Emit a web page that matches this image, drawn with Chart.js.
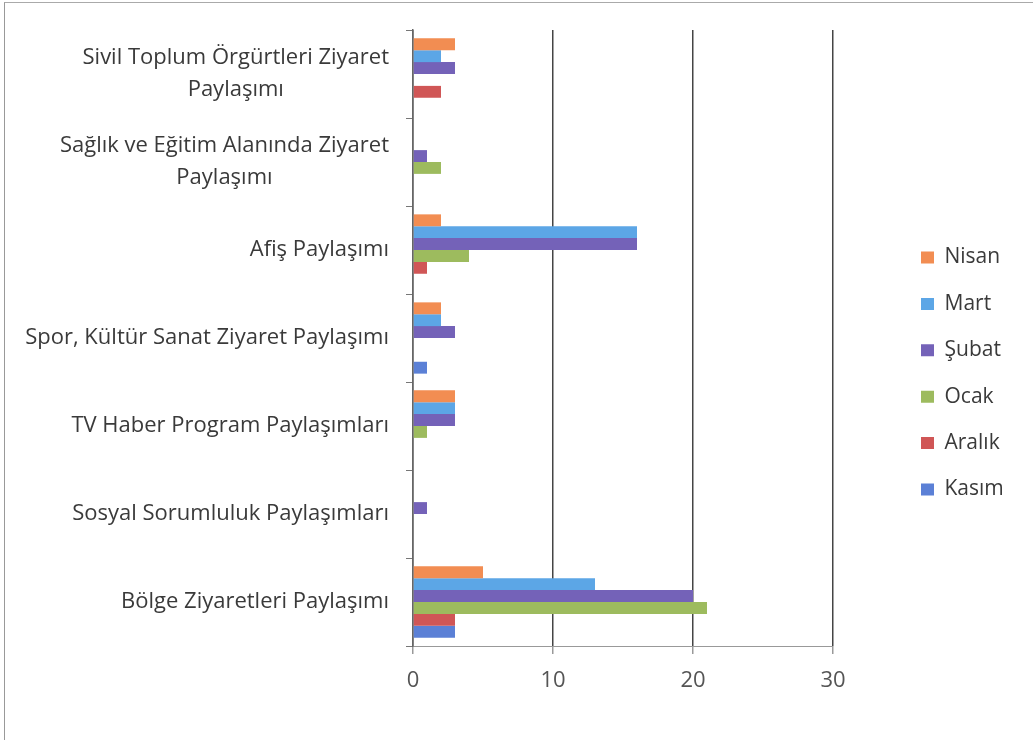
<!DOCTYPE html>
<html>
<head>
<meta charset="utf-8">
<script src="https://cdn.jsdelivr.net/npm/chart.js"></script>
<style>
  body { margin: 0; background: #fff; }
  #frame { position: absolute; left: 4px; top: 2px; width: 1100px; height: 800px;
           border-left: 1px solid #999; border-top: 1px solid #aaa; }
  #wrap { position: absolute; left: 0; top: 0; }
</style>
</head>
<body>
<div id="frame"></div>
<div id="wrap"><canvas id="chart" width="1033" height="740"></canvas></div>
<script>
// categorías (de arriba a abajo) y valores por mes
const categories = [
  ['Sivil Toplum Örgürtleri Ziyaret', 'Paylaşımı'],
  ['Sağlık ve Eğitim Alanında Ziyaret', 'Paylaşımı'],
  ['Afiş Paylaşımı'],
  ['Spor, Kültür Sanat Ziyaret Paylaşımı'],
  ['TV Haber Program Paylaşımları'],
  ['Sosyal Sorumluluk Paylaşımları'],
  ['Bölge Ziyaretleri Paylaşımı']
];
const seriesNames = ['Nisan', 'Mart', 'Şubat', 'Ocak', 'Aralık', 'Kasım'];
const nisan  = [3, 0, 2, 2, 3, 0, 5];
const mart   = [2, 0, 16, 2, 3, 0, 13];
const subat  = [3, 1, 16, 3, 3, 1, 20];
const ocak   = [0, 2, 4, 0, 1, 0, 21];
const aralik = [2, 0, 1, 0, 0, 0, 3];
const kasim  = [0, 0, 0, 1, 0, 0, 3];
const xTicks = [0, 10, 20, 30];

const colors = ['#f28d52', '#5ca6e6', '#7462b8', '#9dbb5e', '#d05656', '#5b80d6'];
const values = [nisan, mart, subat, ocak, aralik, kasim];

const FONT = '"Open Sans"';

// etiquetas del eje Y: bloque centrado, alineado a la derecha
const catLabels = {
  id: 'catLabels',
  afterDraw(chart) {
    const y = chart.scales.y;
    const c = chart.ctx;
    c.save();
    c.font = '22px ' + FONT;
    c.fillStyle = '#3a3a3a';
    c.textAlign = 'center';
    c.textBaseline = 'middle';
    const right = 389, lineH = 32;
    categories.forEach((lines, i) => {
      const cy = y.getPixelForTick(i);
      const w = Math.max(...lines.map(t => c.measureText(t).width));
      lines.forEach((t, j) => {
        c.fillText(t, right - w / 2, cy + (j - (lines.length - 1) / 2) * lineH);
      });
    });
    c.restore();
  }
};

// mover la leyenda a su sitio
const legendPos = {
  id: 'legendPos',
  afterLayout(chart) {
    const l = chart.legend;
    const pad = l.options.labels.padding;
    l.left = 921 - pad;
    l.right = l.left + l.width;
    l.top = 247 - pad;
    l.bottom = l.top + 400;
  }
};

const ctx = document.getElementById('chart').getContext('2d');
const chart = new Chart(ctx, {
  type: 'bar',
  data: {
    labels: categories.map(l => l.join(' ')),
    datasets: seriesNames.map((name, i) => ({
      label: name,
      data: values[i],
      backgroundColor: colors[i],
      borderWidth: 0,
      categoryPercentage: 0.81,
      barPercentage: 1
    }))
  },
  options: {
    indexAxis: 'y',
    responsive: false,
    animation: false,
    layout: { padding: { top: 30, right: 60, bottom: 0, left: 0 } },
    plugins: {
      legend: {
        position: 'right',
        align: 'start',
        labels: {
          boxWidth: 13,
          boxHeight: 12,
          padding: 25.4,
          color: '#3a3a3a',
          font: { family: FONT, size: 21 }
        }
      },
      tooltip: { enabled: false }
    },
    scales: {
      x: {
        min: 0,
        max: 30,
        afterBuildTicks: s => { s.ticks = xTicks.map(v => ({ value: v })); },
        afterFit: s => { s.height = 94; },
        grid: { color: '#444', lineWidth: 1.5, tickColor: '#999', tickLength: 8 },
        border: { color: '#999', width: 1 },
        ticks: { color: '#555', padding: 14, font: { family: FONT, size: 22 } }
      },
      y: {
        afterFit: s => { s.width = 413; },
        grid: { drawOnChartArea: false, color: '#777', tickLength: 7 },
        border: { color: '#666', width: 1.5 },
        ticks: { display: false }
      }
    }
  },
  plugins: [catLabels, legendPos]
});

// ajustar el margen derecho para que el área termine en x=833
const d = 833 - chart.chartArea.right;
chart.options.layout.padding.right -= d;
chart.update();
</script>
</body>
</html>
